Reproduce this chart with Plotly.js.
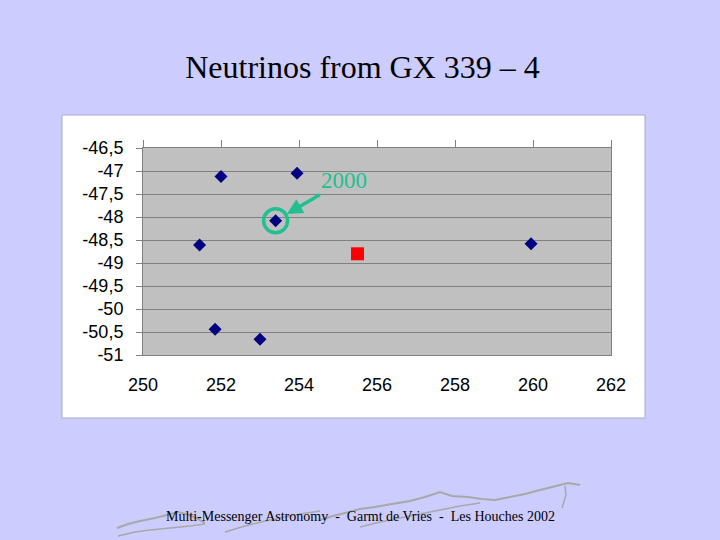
<!DOCTYPE html>
<html>
<head>
<meta charset="utf-8">
<script src="https://cdn.plot.ly/plotly-3.0.1.min.js"></script>
<style>html,body{margin:0;padding:0;background:#ccccff;}</style>
</head>
<body>
<div id="chart" style="width:720px;height:540px;"></div>
<script>
// Data
const srcRA = [252.0, 253.95, 253.4, 251.45, 251.85, 253.0, 259.95];
const srcDec = [-47.12, -47.05, -48.08, -48.61, -50.44, -50.66, -48.58];
const gxRA = [255.5];
const gxDec = [-48.8];
const highlightIndex = 2;          // the "2000" event
const highlightLabel = "2000";
const xTicks = [250, 252, 254, 256, 258, 260, 262];
const yTicks = [-46.5, -47, -47.5, -48, -48.5, -49, -49.5, -50, -50.5, -51];
const yTickText = ['-46,5', '-47', '-47,5', '-48', '-48,5', '-49', '-49,5', '-50', '-50,5', '-51'];

const W = 720, H = 540;
const L = 143, R = 611, T = 148, B = 355;
const px = x => (x - L) / (R - L);
const py = y => (B - y) / (B - T);

function pathFrom(pts) {
  return pts.map((p, i) => (i ? 'L' : 'M') + px(p[0]).toFixed(4) + ',' + py(p[1]).toFixed(4)).join(' ');
}
const ridge1 = [[117,528],[128,524],[140,521],[155,518],[167,515],[178,512],[186,514],[196,518],[205,523]];
const ridge1b = [[118,536],[135,532],[150,530],[170,528],[190,526],[205,524]];
const ridge2 = [[320,520],[333,516],[345,513],[360,509],[375,507],[392,504],[410,501],[425,497],[440,492],[452,496],[468,497],[482,499],[495,500],[510,497],[525,494],[540,490],[556,486],[568,483],[580,485]];
const ridge2b = [[225,532],[245,526],[265,521],[285,517],[300,514],[320,511]];
const ridge2c = [[360,527],[380,522],[400,518],[420,514],[440,510],[460,506],[480,503]];
const ridge4 = [[565,486],[566,495],[562,508]];

const traces = [
  {x: srcRA, y: srcDec, type: 'scatter', mode: 'markers', xaxis: 'x', yaxis: 'y',
   marker: {symbol: 'diamond', size: 10, color: '#000080'}, hoverinfo: 'x+y', showlegend: false},
  {x: gxRA, y: gxDec, type: 'scatter', mode: 'markers', xaxis: 'x', yaxis: 'y',
   marker: {symbol: 'square', size: 13, color: '#ff0000'}, hoverinfo: 'x+y', showlegend: false},
  {x: srcRA, y: srcDec, type: 'scatter', mode: 'markers', xaxis: 'x2', yaxis: 'y',
   marker: {size: 1, opacity: 0}, hoverinfo: 'skip', showlegend: false}
];

const lineStyle = {color: '#a8a8a8', width: 2};

const layout = {
  width: W, height: H,
  paper_bgcolor: '#ccccff',
  plot_bgcolor: 'rgba(0,0,0,0)',
  separators: ', ',
  margin: {l: L, r: W - R, t: T, b: H - B, pad: 0},
  title: {
    text: 'Neutrinos from GX 339 – 4',
    font: {family: 'Liberation Serif, Times New Roman, serif', size: 32, color: '#000000'},
    xref: 'container', yref: 'container', x: 362.5 / W, y: 1 - 67 / H,
    xanchor: 'center', yanchor: 'middle'
  },
  xaxis: {
    range: [250, 262], tickvals: xTicks, ticktext: xTicks.map(String),
    showgrid: false, zeroline: false,
    showline: true, linecolor: '#808080', linewidth: 1, mirror: true,
    ticks: '', ticklabelstandoff: 13,
    tickfont: {family: 'Liberation Sans, Arial, sans-serif', size: 18, color: '#000000'},
    fixedrange: true
  },
  xaxis2: {
    range: [250, 262], tickvals: xTicks, overlaying: 'x', side: 'top', anchor: 'y',
    showgrid: false, zeroline: false, showticklabels: false,
    ticks: 'outside', ticklen: 7, tickcolor: '#808080', tickwidth: 1,
    fixedrange: true
  },
  yaxis: {
    range: [-51, -46.5], tickvals: yTicks, ticktext: yTickText,
    showgrid: true, gridcolor: '#808080', gridwidth: 1, zeroline: false,
    showline: true, linecolor: '#808080', linewidth: 1, mirror: true,
    ticks: 'outside', ticklen: 6, tickcolor: '#808080',
    ticklabelstandoff: 9,
    tickfont: {family: 'Liberation Sans, Arial, sans-serif', size: 18, color: '#000000'},
    fixedrange: true
  },
  shapes: [
    {type: 'rect', xref: 'paper', yref: 'paper', layer: 'below',
     x0: px(62), x1: px(645), y0: py(418), y1: py(115),
     fillcolor: '#ffffff', line: {color: '#a8a8c8', width: 1}},
    {type: 'rect', xref: 'paper', yref: 'paper', layer: 'below',
     x0: 0, x1: 1, y0: 0, y1: 1, fillcolor: '#c0c0c0', line: {width: 0}},
    {type: 'circle', xref: 'x', yref: 'y', xsizemode: 'pixel', ysizemode: 'pixel',
     xanchor: srcRA[highlightIndex], yanchor: srcDec[highlightIndex],
     x0: -12, x1: 12, y0: -12, y1: 12,
     line: {color: '#20c090', width: 3.5}, fillcolor: 'rgba(0,0,0,0)'},
    {type: 'path', xref: 'paper', yref: 'paper', layer: 'below', path: pathFrom(ridge1), line: lineStyle},
    {type: 'path', xref: 'paper', yref: 'paper', layer: 'below', path: pathFrom(ridge1b), line: {color: '#a8a8a8', width: 1.5}},
    {type: 'path', xref: 'paper', yref: 'paper', layer: 'below', path: pathFrom(ridge2), line: lineStyle},
    {type: 'path', xref: 'paper', yref: 'paper', layer: 'below', path: pathFrom(ridge2b), line: {color: '#a8a8a8', width: 1.5}},
    {type: 'path', xref: 'paper', yref: 'paper', layer: 'below', path: pathFrom(ridge2c), line: {color: '#a8a8a8', width: 1.5}},
    {type: 'path', xref: 'paper', yref: 'paper', layer: 'below', path: pathFrom(ridge4), line: {color: '#a8a8a8', width: 1.5}}
  ],
  annotations: [
    {x: srcRA[highlightIndex], y: srcDec[highlightIndex], xref: 'x', yref: 'y',
     text: highlightLabel, showarrow: true, arrowhead: 2, arrowsize: 0.9, arrowwidth: 3.5,
     arrowcolor: '#20c090', standoff: 13, ax: 68, ay: -40,
     font: {family: 'Liberation Serif, Times New Roman, serif', size: 23, color: '#20c090'}},
    {xref: 'paper', yref: 'paper', x: px(360), y: py(516), xanchor: 'center', yanchor: 'middle',
     showarrow: false,
     text: 'Multi-Messenger Astronomy  -  Garmt de Vries  -  Les Houches 2002',
     font: {family: 'Liberation Serif, Times New Roman, serif', size: 14, color: '#000000'}}
  ]
};

Plotly.newPlot('chart', traces, layout, {displayModeBar: false, staticPlot: true});
</script>
</body>
</html>
